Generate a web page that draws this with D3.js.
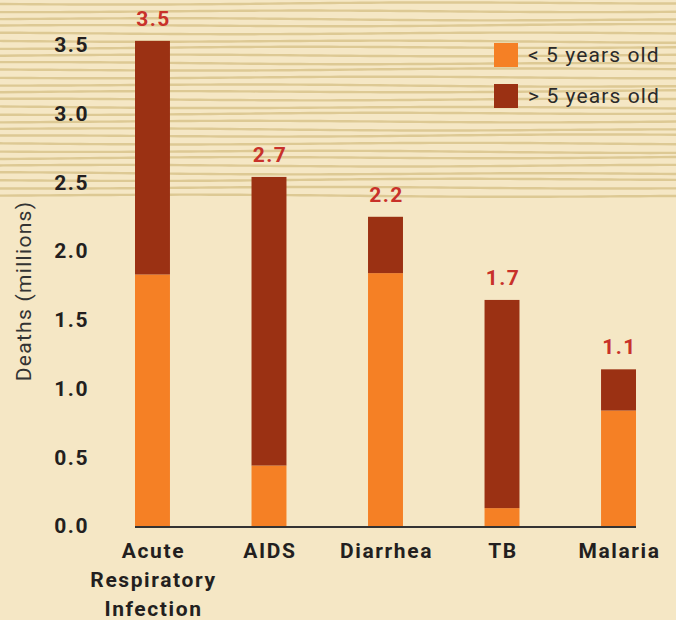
<!DOCTYPE html>
<meta charset="utf-8">
<script src="https://d3js.org/d3.v7.min.js"></script>
<style>
body { margin: 0; background: #f5e7c5; }
text { font-family: Roboto, "DejaVu Sans", sans-serif; }
</style>
<body>
<div id="chart"></div>
</body>
<script>

// data (deaths, millions)
var categories = ["Acute Respiratory Infection", "AIDS", "Diarrhea", "TB", "Malaria"]
var categoryLines = [["Acute", "Respiratory", "Infection"], ["AIDS"], ["Diarrhea"], ["TB"], ["Malaria"]]
var under5 = [1.83, 0.44, 1.84, 0.13, 0.84]
var over5 = [1.70, 2.10, 0.41, 1.515, 0.30]
var totalLabels = ["3.5", "2.7", "2.2", "1.7", "1.1"]
var yTicks = [0, 0.5, 1.0, 1.5, 2.0, 2.5, 3.0, 3.5]
var seriesNames = ["< 5 years old", "> 5 years old"]
var colors = ["#f58025", "#9b3113"]

var W = 676, H = 620

var svg = d3.select("#chart")
  .append("svg")
    .attr("width", W)
    .attr("height", H)

svg.append("rect").attr("width", W).attr("height", H).attr("fill", "#f5e7c5")

// wood-grain stripes in the upper part
var grain = svg.append("g")
for (var i = 0; i < 27; i++) {
  var y0 = 4 + i * 7.35
  var pts = d3.range(0, W + 20, 20).map(function(x) {
    return [x, y0 + 0.8 * Math.sin(x / 90 + i * 1.3) + (x / W) * (i % 3 - 1) * 1.2]
  })
  grain.append("path")
    .attr("d", d3.line().curve(d3.curveBasis)(pts))
    .attr("fill", "none")
    .attr("stroke", "#ddc994")
    .attr("stroke-width", 2.4)
}

var x = d3.scaleBand()
  .domain(categories)
  .range([135, 636])
  .paddingInner(0.7)
  .paddingOuter(0)

var y = d3.scaleLinear()
  .domain([0, 3.5])
  .range([526, 45])

// y axis
var yAxis = svg.append("g")
  .attr("transform", "translate(89,0)")
  .call(d3.axisLeft(y).tickValues(yTicks).tickFormat(d3.format(".1f")).tickSize(0).tickPadding(0))
yAxis.select(".domain").remove()
yAxis.selectAll("text")
  .attr("font-family", "Roboto, sans-serif")
  .attr("font-size", 21)
  .attr("font-weight", "bold")
  .attr("letter-spacing", 1.5)
  .attr("fill", "#231f20")

svg.append("text")
  .attr("transform", "translate(31,291) rotate(-90)")
  .attr("text-anchor", "middle")
  .attr("font-size", 21)
  .attr("letter-spacing", 1.3)
  .attr("fill", "#333")
  .text("Deaths (millions)")

// stacked bars
var stackData = categories.map(function(c, i) { return {cat: c, u: under5[i], o: over5[i]} })
var stacked = d3.stack().keys(["u", "o"])(stackData)

svg.selectAll("g.layer")
  .data(stacked)
  .enter()
  .append("g")
    .attr("class", "layer")
    .attr("fill", function(d, i) { return colors[i] })
  .selectAll("rect")
  .data(function(d) { return d })
  .enter()
  .append("rect")
    .attr("x", function(d) { return x(d.data.cat) })
    .attr("width", x.bandwidth())
    .attr("y", function(d) { return y(d[1]) })
    .attr("height", function(d) { return y(d[0]) - y(d[1]) })

// total labels
svg.selectAll("text.total")
  .data(stackData)
  .enter()
  .append("text")
    .attr("class", "total")
    .attr("x", function(d) { return x(d.cat) + x.bandwidth() / 2 + 1 })
    .attr("y", function(d) { return y(d.u + d.o) - 15 })
    .attr("text-anchor", "middle")
    .attr("font-size", 21)
    .attr("font-weight", "bold")
    .attr("letter-spacing", 1.5)
    .attr("fill", "#c8312a")
    .text(function(d, i) { return totalLabels[i] })

// x axis line
svg.append("line")
  .attr("x1", x.range()[0]).attr("x2", x.range()[1])
  .attr("y1", y(0) + 1).attr("y2", y(0) + 1)
  .attr("stroke", "#333")
  .attr("stroke-width", 2)

// category labels
categories.forEach(function(c, i) {
  var t = svg.append("text")
    .attr("text-anchor", "middle")
    .attr("font-size", 21)
    .attr("font-weight", "bold")
    .attr("letter-spacing", 1.6)
    .attr("fill", "#231f20")
  categoryLines[i].forEach(function(line, j) {
    t.append("tspan")
      .attr("x", x(c) + x.bandwidth() / 2 + 1)
      .attr("y", 558 + j * 29)
      .text(line)
  })
})

// legend
var legend = svg.selectAll("g.legend")
  .data(seriesNames)
  .enter()
  .append("g")
    .attr("class", "legend")
    .attr("transform", function(d, i) { return "translate(494," + (43 + i * 41) + ")" })
legend.append("rect")
  .attr("width", 24).attr("height", 24)
  .attr("fill", function(d, i) { return colors[i] })
legend.append("text")
  .attr("x", 34).attr("y", 19)
  .attr("font-size", 21)
  .attr("letter-spacing", 1.1)
  .attr("fill", "#2a2a2a")
  .text(function(d) { return d })

</script>
